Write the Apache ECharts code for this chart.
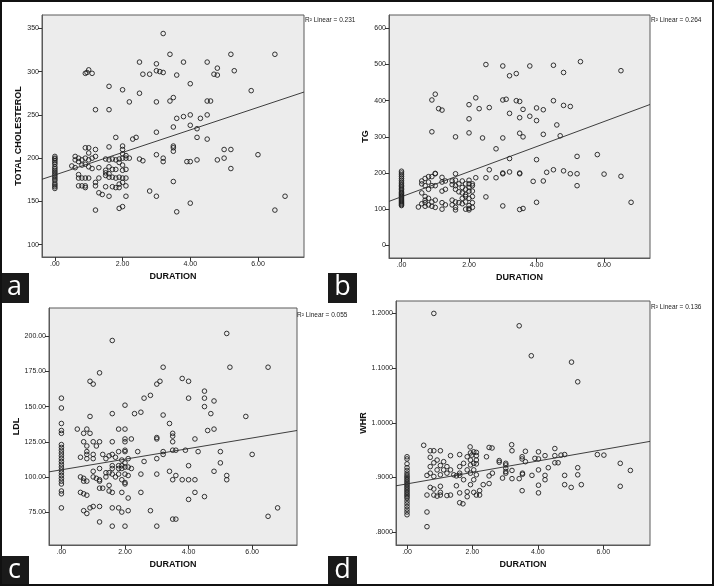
<!DOCTYPE html>
<html><head><meta charset="utf-8">
<script src="https://cdn.jsdelivr.net/npm/echarts@6/dist/echarts.min.js"></script>
<style>html,body{margin:0;padding:0;background:#fff}#c{width:714px;height:586px}</style>
</head><body><div id="c"></div>
<script>
// ---------- DATA ----------
const xTicks = [0, 2, 4, 6];
const cholTicks = [100, 150, 200, 250, 300, 350];
const tgTicks = [0, 100, 200, 300, 400, 500, 600];
const ldlTicks = [75, 100, 125, 150, 175, 200];
const whrTicks = [0.8, 0.9, 1.0, 1.1, 1.2];

const r2Labels = ["R\u00B2 Linear = 0.231", "R\u00B2 Linear = 0.264", "R\u00B2 Linear = 0.055", "R\u00B2 Linear = 0.136"];
const yTitles = ["TOTAL CHOLESTEROL", "TG", "LDL", "WHR"];
const xTitle = "DURATION";
const panelLetters = ["a", "b", "c", "d"];

// fit line end points
const cholFit = [[-0.38, 175.6], [7.36, 276.4]];
const tgFit = [[-0.37, 121.6], [7.36, 389.5]];
const ldlFit = [[-0.39, 103.6], [7.41, 133.0]];
const whrFit = [[-0.337, 0.8849], [7.43, 0.9661]];

const cholPoints = [
 [0,202],[0,200],[0,199],[0,197],[0,195],[0,193],[0,190],[0,188],[0,186],[0,184],[0,182],[0,180],[0,178],[0,176],[0,174],[0,171],[0,169],[0,167],[0,165],
 [0.5,191],[0.6,202],[0.6,198],[0.6,189],[0.7,200],[0.7,196],[0.7,181],[0.7,177],[0.7,168],[0.8,198],[0.8,192],[0.8,177],[0.8,168],[0.9,212],[0.9,200],[0.9,193],[0.9,177],[0.9,168],[0.9,166],[1.0,212],[1.0,206],[1.0,198],[1.0,190],[1.0,177],[1.1,200],[1.1,188],[1.2,210],[1.2,202],[1.2,172],[1.2,168],[1.3,189],[1.3,177],[1.3,160],[1.4,158],[1.5,199],[1.5,186],[1.5,183],[1.5,180],[1.5,167],[1.6,213],[1.6,198],[1.6,190],[1.6,182],[1.6,178],[1.6,156],[1.7,199],[1.7,187],[1.7,178],[1.7,167],[1.8,224],[1.8,198],[1.8,187],[1.8,177],[1.8,166],[1.9,199],[1.9,195],[1.9,178],[1.9,170],[1.9,166],[1.9,142],[2.0,214],[2.0,210],[2.0,205],[2.0,200],[2.0,192],[2.0,186],[2.0,177],[2.0,172],[2.0,144],[2.1,203],[2.1,200],[2.1,187],[2.1,177],[2.1,168],[2.1,156],[2.2,200],[1.2,140],
 [3.2,344],[3.4,320],[5.2,320],[6.5,320],[2.5,311],[3.0,309],[3.8,311],[4.5,311],[4.8,304],[1.0,302],[0.95,299],[0.9,298],[1.1,298],[3.0,301],[3.1,300],[3.2,299],[2.6,297],[2.8,297],[3.6,296],[4.7,297],[4.8,296],[5.3,301],[4.0,286],[1.6,283],[2.0,279],[2.5,275],[5.8,278],[3.5,270],[3.4,266],[4.5,266],[4.6,266],[3.0,265],[2.2,265],[1.2,256],[1.6,256],[4.0,250],[4.5,250],[3.8,248],[3.6,246],[4.3,246],[3.5,236],[4.0,238],[4.2,234],[2.4,224],[2.3,222],[4.2,224],[4.5,222],[3.0,230],[3.5,214],[3.5,212],[3.5,208],[2.5,199],[2.6,197],[3.0,204],[6.0,204],[5.0,210],[5.2,210],[3.2,200],[3.2,196],[3.9,196],[4.0,196],[4.2,198],[4.8,198],[5.0,200],[5.2,188],[3.5,173],[2.8,162],[3.0,156],[4.0,148],[3.6,138],[6.5,140],[6.8,156]
];

const tgPoints = [
 [0,110],[0,113],[0,116],[0,119],[0,122],[0,125],[0,128],[0,131],[0,134],[0,137],[0,140],[0,143],[0,146],[0,150],[0,154],[0,158],[0,162],[0,166],[0,170],[0,175],[0,180],[0,185],[0,190],[0,195],[0,200],[0,205],
 [0.5,106],[0.6,115],[0.6,145],[0.6,170],[0.6,178],[0.7,108],[0.7,118],[0.7,125],[0.7,135],[0.7,165],[0.7,185],[0.8,112],[0.8,130],[0.8,155],[0.8,175],[0.8,190],[0.9,108],[0.9,120],[0.9,165],[0.9,190],[1.0,105],[1.0,125],[1.0,165],[1.0,198],[1.0,199],[1.2,100],[1.2,118],[1.2,150],[1.2,175],[1.2,188],[1.3,112],[1.3,155],[1.3,178],[1.5,112],[1.5,125],[1.5,168],[1.5,178],[1.6,98],[1.6,105],[1.6,120],[1.6,155],[1.6,165],[1.6,180],[1.6,198],[1.7,118],[1.7,148],[1.7,170],[1.8,115],[1.8,130],[1.8,145],[1.8,160],[1.8,178],[1.9,100],[1.9,120],[1.9,135],[1.9,140],[1.9,155],[1.9,170],[2.0,98],[2.0,102],[2.0,110],[2.0,130],[2.0,150],[2.0,160],[2.0,170],[2.0,180],[2.1,105],[2.1,118],[2.1,135],[2.1,150],[2.1,165],[2.1,170],
 [2.5,500],[3.0,496],[3.2,469],[3.4,475],[3.8,496],[4.5,498],[4.8,478],[5.3,508],[6.5,483],[1.0,418],[0.9,402],[1.1,378],[1.2,374],[0.9,314],[1.6,300],[2.0,389],[2.2,408],[2.3,378],[2.6,381],[2.0,350],[2.0,311],[2.4,297],[2.8,267],[3.0,402],[3.1,404],[3.0,297],[3.2,365],[3.4,400],[3.5,398],[3.6,376],[3.5,353],[3.8,357],[4.0,380],[4.0,345],[4.2,375],[4.5,400],[4.8,387],[5.0,384],[4.6,333],[4.7,303],[3.5,310],[3.6,300],[4.2,307],[3.2,240],[4.0,237],[5.2,246],[5.8,251],[2.6,209],[2.2,187],[2.5,187],[2.8,187],[3.0,200],[3.0,198],[3.2,203],[3.5,200],[3.5,198],[3.9,177],[4.2,178],[4.3,202],[4.5,209],[4.8,206],[5.0,198],[5.2,198],[5.2,165],[6.0,197],[6.5,191],[6.8,119],[4.0,119],[2.5,134],[3.0,109],[3.5,99],[3.6,102]
];

const ldlPoints = [
 [0,156],[0,149],[0,138],[0,133],[0,131],[0,123],[0,121],[0,119],[0,117],[0,115],[0,113],[0,111],[0,109],[0,107],[0,105],[0,103],[0,101],[0,99],[0,97],[0,95],[0,90],[0,88],[0,78],
 [1.6,197],[5.2,202],[3.2,178],[5.3,178],[6.5,178],[1.2,174],[0.9,168],[1.0,166],[3.0,166],[3.1,168],[3.8,170],[4.0,168],[2.6,156],[2.8,158],[4.0,156],[4.5,161],[4.5,156],[4.5,150],[4.8,154],[4.7,145],[2.0,151],[1.6,145],[2.3,145],[2.5,146],[3.2,144],[5.8,143],[0.9,143],
 [0.5,134],[0.8,134],[0.9,131],[0.7,131],[1.8,134],[2.0,134],[3.4,138],[3.5,131],[3.5,129],[3.0,128],[3.0,127],[4.2,127],[4.6,133],[4.8,134],
 [0.7,125],[1.0,125],[1.2,125],[1.6,125],[2.0,127],[2.0,125],[2.2,127],[1.1,122],[0.8,122],[3.5,125],[1.8,118],[2.0,119],[2.0,118],[2.4,118],[3.2,118],[3.2,116],[3.5,119],[3.6,119],[3.9,119],[4.3,118],[5.0,118],[6.0,116],
 [0.8,118],[0.8,116],[0.8,113],[0.6,114],[1.0,116],[1.0,113],[1.3,116],[1.5,115],[1.6,116],[1.7,114],[1.9,112],[2.1,113],[2.6,111],[3.0,113],[1.4,113],
 [3.4,104],[4.0,108],[5.0,110],[4.8,104],[5.2,101],[5.2,98],[2.5,102],[3.0,102],[3.6,101],[3.5,98],[3.8,98],[4.0,98],[4.2,98],[4.2,89],[4.5,86],[4.0,84],[2.5,89],[2.1,85],[1.6,89],[1.9,89],[1.5,90],[1.5,94],[0.6,89],[0.7,88],[0.8,87],[1.2,92],[1.3,92],
 [2.8,76],[2.1,76],[1.9,75],[1.8,78],[1.6,78],[1.2,79],[1.0,79],[0.9,78],[0.7,76],[0.8,74],[1.2,68],[1.6,65],[2.0,65],[3.0,65],[3.5,70],[3.6,70],[6.5,72],[6.8,78],
 [0.6,100],[0.7,99],[0.8,97],[0.7,97],[1.0,104],[1.0,100],[1.1,99],[1.2,106],[1.2,98],[1.2,97],[1.4,100],[1.4,103],[1.5,103],[1.6,102],[1.6,106],[1.6,108],[1.7,100],[1.8,106],[1.8,108],[1.8,102],[1.9,106],[1.9,108],[1.9,98],[2.0,96],[2.0,95],[2.1,107],[2.1,101],[2.2,106],[2.0,107],[2.0,102],[2.0,110]
];

const whrPoints = [
 [0,0.938],[0,0.934],[0,0.925],[0,0.918],[0,0.913],[0,0.908],[0,0.904],[0,0.901],[0,0.898],[0,0.895],[0,0.892],[0,0.889],[0,0.886],[0,0.883],[0,0.880],[0,0.877],[0,0.874],[0,0.871],[0,0.868],[0,0.865],[0,0.862],[0,0.857],[0,0.852],[0,0.847],[0,0.842],[0,0.837],[0,0.832],
 [0.82,1.2],[3.43,1.1774],[3.8,1.1226],[5.03,1.111],[5.22,1.075],[0.61,0.8102],[0.61,0.837],[0.51,0.959],[0.71,0.949],[0.82,0.949],[1.02,0.949],[0.71,0.937],[1.93,0.956],[2.51,0.955],[2.6,0.954],[3.2,0.96],[3.21,0.949],[3.62,0.948],[4.02,0.947],[4.52,0.953],
 [1.33,0.94],[1.61,0.942],[1.12,0.929],[1.84,0.938],[1.94,0.945],[1.98,0.941],[2.04,0.947],[2.12,0.946],[2.12,0.94],[2.43,0.938],[2.82,0.931],[2.82,0.928],[3.02,0.926],[3.02,0.923],[3.52,0.938],[3.52,0.934],[3.62,0.929],[3.91,0.935],[4.02,0.934],[4.22,0.94],[4.52,0.94],[4.52,0.927],[4.62,0.927],[4.71,0.941],[4.82,0.942],[5.82,0.942],[6.02,0.941],[6.52,0.926],[6.83,0.913],
 [5.22,0.918],[5.22,0.905],[4.02,0.914],[4.32,0.918],[4.82,0.904],[4.22,0.904],[4.22,0.896],[3.82,0.904],[3.53,0.908],[3.53,0.906],[3.43,0.898],[3.21,0.913],[3.02,0.917],[3.02,0.911],[3.02,0.908],[2.92,0.899],[3.21,0.898],[2.61,0.908],[2.51,0.903],[2.51,0.889],[2.33,0.887],[4.02,0.886],[4.02,0.872],[3.52,0.876],[4.82,0.887],[5.02,0.882],[5.33,0.887],[6.52,0.884],
 [0.61,0.904],[0.61,0.868],[0.71,0.92],[0.71,0.908],[0.71,0.882],[0.82,0.927],[0.82,0.902],[0.82,0.868],[0.82,0.879],[0.92,0.932],[0.92,0.914],[0.92,0.866],[1.02,0.922],[1.02,0.905],[1.02,0.884],[1.02,0.873],[1.02,0.868],[1.12,0.914],[1.22,0.92],[1.22,0.908],[1.22,0.867],[1.33,0.914],[1.33,0.868],[1.43,0.905],[1.51,0.903],[1.51,0.885],[1.61,0.92],[1.61,0.908],[1.61,0.904],[1.61,0.872],[1.61,0.854],[1.71,0.852],[1.73,0.926],[1.73,0.896],[1.84,0.914],[1.84,0.874],[1.84,0.865],[1.94,0.932],[1.94,0.923],[1.94,0.908],[1.94,0.887],[2.04,0.926],[2.04,0.914],[2.04,0.896],[2.04,0.873],[2.12,0.932],[2.12,0.925],[2.12,0.905],[2.12,0.868],[2.22,0.876],[2.22,0.868]
];

// ---------- LAYOUT ----------
const grids = [
  {left: 42, top: 15, width: 262, height: 242},
  {left: 389, top: 15, width: 261, height: 243},
  {left: 49, top: 308, width: 248, height: 237},
  {left: 396, top: 301, width: 254, height: 244}
];
const xRanges = [[-0.38, 7.36], [-0.37, 7.36], [-0.39, 7.41], [-0.337, 7.43]];
const yRanges = [[85.8, 365.4], [-35, 637], [51.6, 220.1], [0.7767, 1.2227]];
const yTickSets = [cholTicks, tgTicks, ldlTicks, whrTicks];
const yFormat = [
  v => String(Math.round(v)),
  v => String(Math.round(v)),
  v => v.toFixed(2),
  v => v.toFixed(4).replace(/^0/, '')
];
const xFormat = v => v.toFixed(2).replace(/^0/, '');
const pointSets = [cholPoints, tgPoints, ldlPoints, whrPoints];
const fitSets = [cholFit, tgFit, ldlFit, whrFit];
const yNameGaps = [19, 17, 21, 27];
const FONT = 'Liberation Sans, Arial, sans-serif';

const option = {
  backgroundColor: '#fff',
  animation: false,
  grid: grids.map(g => Object.assign({show: true, backgroundColor: '#ececec', borderColor: '#5a5a5a', borderWidth: 1, containLabel: false}, g)),
  xAxis: grids.map((g, i) => ({
    type: 'value', gridIndex: i, min: xRanges[i][0], max: xRanges[i][1],
    name: xTitle, nameLocation: 'middle', nameGap: 15,
    nameTextStyle: {fontFamily: FONT, fontSize: 9, fontWeight: 'bold', color: '#111'},
    axisLine: {show: true, onZero: false, lineStyle: {color: '#5a5a5a', width: 1}},
    axisTick: {show: true, length: 4, customValues: xTicks, lineStyle: {color: '#333'}},
    axisLabel: {customValues: xTicks, formatter: xFormat, fontFamily: FONT, fontSize: 7, color: '#222', margin: 4},
    splitLine: {show: false}
  })),
  yAxis: grids.map((g, i) => ({
    type: 'value', gridIndex: i, min: yRanges[i][0], max: yRanges[i][1],
    name: yTitles[i], nameLocation: 'middle', nameGap: yNameGaps[i],
    nameTextStyle: {fontFamily: FONT, fontSize: 9, fontWeight: 'bold', color: '#111'},
    axisLine: {show: true, onZero: false, lineStyle: {color: '#5a5a5a', width: 1}},
    axisTick: {show: true, length: 4, customValues: yTickSets[i], lineStyle: {color: '#333'}},
    axisLabel: {customValues: yTickSets[i], formatter: yFormat[i], fontFamily: FONT, fontSize: 7, color: '#222', margin: 3},
    splitLine: {show: false}
  })),
  series: [].concat(
    pointSets.map((pts, i) => ({
      type: 'scatter', xAxisIndex: i, yAxisIndex: i, data: pts,
      symbol: 'circle', symbolSize: 4.6,
      itemStyle: {color: 'rgba(236,236,236,0)', borderColor: '#1e1e1e', borderWidth: 0.9, opacity: 1},
      emphasis: {disabled: true}, z: 3
    })),
    fitSets.map((f, i) => ({
      type: 'line', xAxisIndex: i, yAxisIndex: i, data: f, showSymbol: false, symbol: 'none',
      lineStyle: {color: '#2a2a2a', width: 0.9}, z: 4, silent: true
    }))
  ),
  graphic: [
    {type: 'rect', shape: {x: 1, y: 1, width: 712, height: 584}, style: {fill: 'none', stroke: '#111', lineWidth: 2}, z: 100},
    // R^2 labels
    {type: 'text', left: 305, top: 17, style: {text: r2Labels[0], font: '6.5px ' + FONT, fill: '#222'}},
    {type: 'text', left: 651, top: 17, style: {text: r2Labels[1], font: '6.5px ' + FONT, fill: '#222'}},
    {type: 'text', left: 297, top: 312, style: {text: r2Labels[2], font: '6.5px ' + FONT, fill: '#222'}},
    {type: 'text', left: 651, top: 304, style: {text: r2Labels[3], font: '6.5px ' + FONT, fill: '#222'}},
    // panel letters
    {type: 'group', left: 0, top: 273, children: [
      {type: 'rect', shape: {x: 0, y: 0, width: 29, height: 30}, style: {fill: '#1a1a1a'}},
      {type: 'text', style: {text: panelLetters[0], x: 14.5, y: 14, align: 'center', verticalAlign: 'middle', font: '27px Open Sans, sans-serif', fill: '#fff'}}
    ]},
    {type: 'group', left: 328, top: 273, children: [
      {type: 'rect', shape: {x: 0, y: 0, width: 29, height: 30}, style: {fill: '#1a1a1a'}},
      {type: 'text', style: {text: panelLetters[1], x: 14.5, y: 14, align: 'center', verticalAlign: 'middle', font: '27px Open Sans, sans-serif', fill: '#fff'}}
    ]},
    {type: 'group', left: 0, top: 556, children: [
      {type: 'rect', shape: {x: 0, y: 0, width: 29, height: 30}, style: {fill: '#1a1a1a'}},
      {type: 'text', style: {text: panelLetters[2], x: 14.5, y: 14, align: 'center', verticalAlign: 'middle', font: '27px Open Sans, sans-serif', fill: '#fff'}}
    ]},
    {type: 'group', left: 328, top: 556, children: [
      {type: 'rect', shape: {x: 0, y: 0, width: 29, height: 30}, style: {fill: '#1a1a1a'}},
      {type: 'text', style: {text: panelLetters[3], x: 14.5, y: 14, align: 'center', verticalAlign: 'middle', font: '27px Open Sans, sans-serif', fill: '#fff'}}
    ]}
  ]
};
const chart = echarts.init(document.getElementById('c'), null, {renderer: 'canvas'});
chart.setOption(option);
</script></body></html>
